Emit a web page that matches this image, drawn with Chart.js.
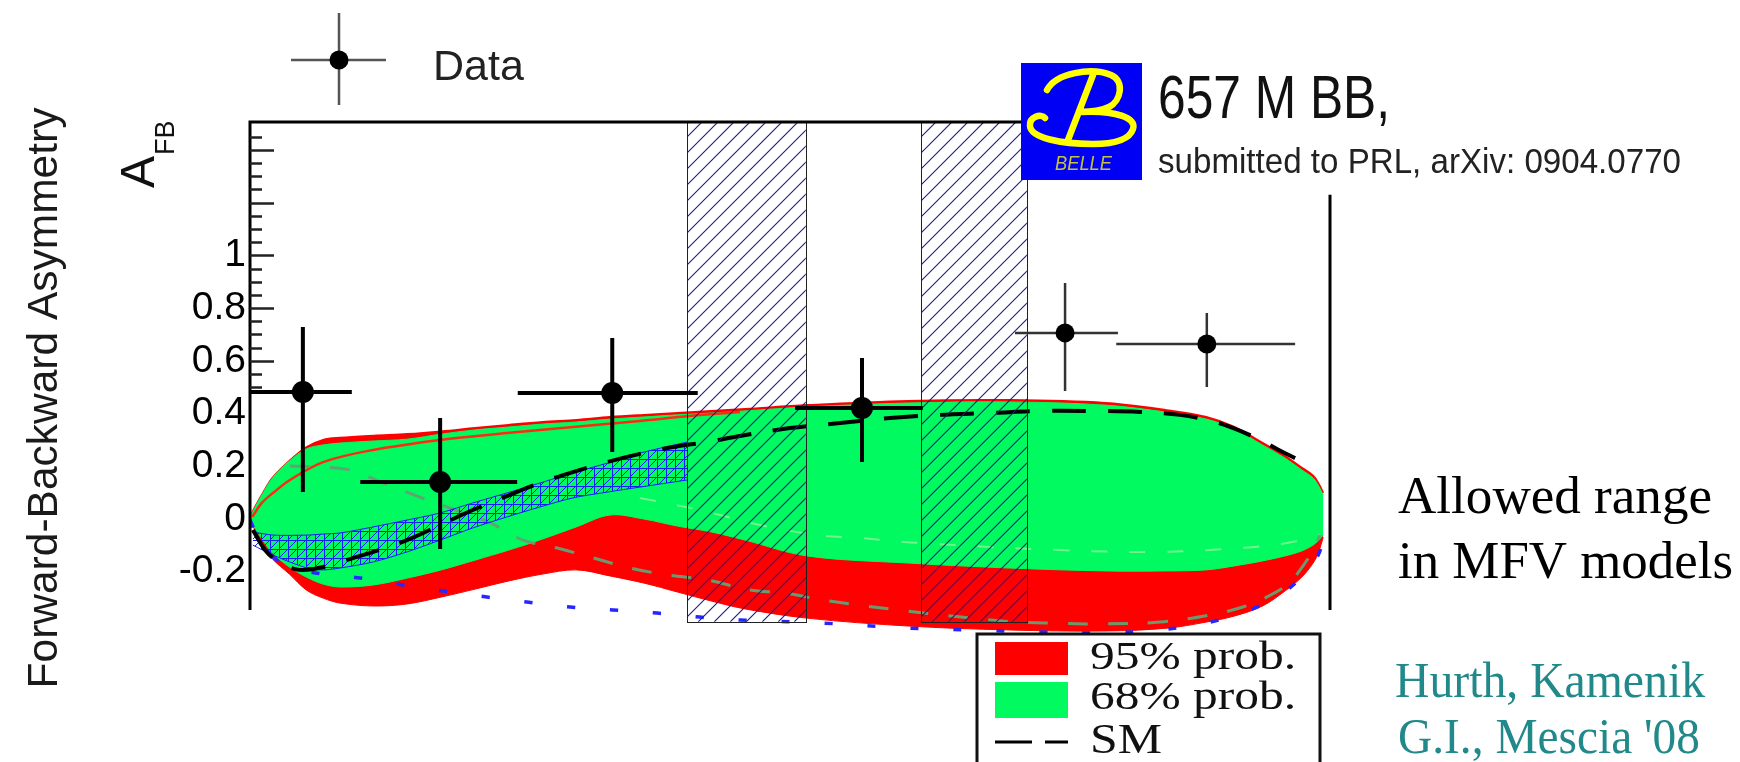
<!DOCTYPE html>
<html>
<head>
<meta charset="utf-8">
<title>Forward-Backward Asymmetry</title>
<script src="https://cdn.jsdelivr.net/npm/chart.js@4.4.1/dist/chart.umd.min.js"></script>
<style>
  html, body { margin: 0; padding: 0; background: #fff; }
  canvas { display: block; }
</style>
</head>
<body>
<canvas id="afb" width="1740" height="762"></canvas>
<script>
// ---- Belle data: q^2 bins (GeV^2) and measured A_FB with errors ----
const binCenter = [0.94, 3.38, 6.44, 10.88, 14.49, 17.01];
const binLow    = [0.00, 1.96, 4.76, 9.69, 13.60, 15.40];
const binHigh   = [1.81, 4.75, 7.96, 11.96, 15.43, 18.58];
const afbValue  = [0.482, 0.140, 0.478, 0.421, 0.706, 0.664];
const afbLow    = [0.102, -0.114, 0.254, 0.216, 0.486, 0.501];
const afbHigh   = [0.728, 0.383, 0.687, 0.611, 0.895, 0.781];

// ---- charmonium veto windows ----
const vetoLow  = [7.77, 11.93];
const vetoHigh = [9.88, 13.81];
const vetoTop = 1.51;
const vetoBottom = -0.39;

// ---- y axis ticks ----
const yTickValues = [-0.2, 0, 0.2, 0.4, 0.6, 0.8, 1, 1.2, 1.4];
const yTickLabels = ['-0.2', '0', '0.2', '0.4', '0.6', '0.8', '1', '', ''];

// ---- MFV allowed range (68% and 95% probability) ----
const bandX = [0, 0.1, 0.2, 0.4, 0.7, 1.0, 1.3, 1.6, 2.2, 2.8, 3.4, 4.0, 4.6, 5.2, 5.8, 6.4, 7.0,
               7.6, 8.2, 8.8, 9.9, 11.7, 13.5, 15.2, 16.3, 17.0, 17.5, 18.0, 18.4, 18.7, 18.9, 19.0, 19.08];
const green68Top = [0.008, 0.049, 0.087, 0.156, 0.220, 0.266, 0.281, 0.288, 0.296, 0.303, 0.322, 0.338,
                    0.349, 0.360, 0.368, 0.379, 0.387, 0.395, 0.402, 0.410, 0.425, 0.440, 0.444, 0.432,
                    0.405, 0.379, 0.341, 0.281, 0.231, 0.186, 0.156, 0.125, 0.091];
const green68Bottom = [-0.008, -0.038, -0.072, -0.129, -0.182, -0.220, -0.247, -0.258, -0.250, -0.224,
                       -0.193, -0.156, -0.118, -0.076, -0.030, 0.015, 0.000, -0.027, -0.049, -0.080,
                       -0.140, -0.167, -0.186, -0.197, -0.197, -0.193, -0.178, -0.159, -0.140, -0.121,
                       -0.099, -0.080, -0.061];
const red95Top = [0.008, 0.049, 0.087, 0.156, 0.220, 0.272, 0.300, 0.308, 0.316, 0.322, 0.332, 0.345,
                  0.357, 0.368, 0.376, 0.387, 0.395, 0.402, 0.410, 0.417, 0.432, 0.448, 0.451, 0.440,
                  0.413, 0.387, 0.349, 0.289, 0.239, 0.194, 0.164, 0.133, 0.099];
const red95Bottom = [-0.008, -0.046, -0.095, -0.152, -0.209, -0.269, -0.300, -0.319, -0.330, -0.322,
                     -0.296, -0.266, -0.235, -0.209, -0.193, -0.216, -0.243, -0.277, -0.311, -0.341,
                     -0.376, -0.406, -0.421, -0.425, -0.414, -0.391, -0.368, -0.330, -0.273, -0.220,
                     -0.167, -0.125, -0.068];

// upper edge of the 95% region seen through the 68% band
const rimX = [0.04, 0.21, 0.41, 0.71, 1.30, 2.19, 3.38, 4.57, 5.74, 6.93, 7.82, 8.71];
const rimY = [0.008, 0.061, 0.099, 0.148, 0.216, 0.262, 0.300, 0.326, 0.349, 0.372, 0.391, 0.406];

// ---- Standard Model prediction ----
const smX = [0.05, 0.27, 0.53, 0.80, 1.01, 1.30, 1.60, 2.19, 2.79, 3.38, 3.96, 4.57, 5.16, 5.74, 6.35,
             6.93, 7.52, 8.12, 8.71, 9.60, 10.49, 11.38, 12.27, 13.16, 14.04, 14.93, 15.82, 16.53,
             17.01, 17.48, 17.96, 18.36, 18.58];
const smY = [-0.042, -0.118, -0.167, -0.190, -0.193, -0.182, -0.163, -0.125, -0.080, -0.023, 0.034,
             0.087, 0.137, 0.178, 0.216, 0.247, 0.273, 0.292, 0.315, 0.345, 0.364, 0.383, 0.395, 0.402,
             0.410, 0.410, 0.406, 0.395, 0.376, 0.345, 0.300, 0.254, 0.231];

// ---- SM band at low q^2 (cross-hatched) ----
const smBandX = [0.05, 0.41, 1.01, 1.30, 1.60, 2.19, 2.79, 3.38, 3.96, 4.57, 5.16, 5.74, 6.35, 6.93, 7.77];
const smBandTop = [-0.049, -0.061, -0.061, -0.057, -0.053, -0.030, -0.004, 0.023, 0.061, 0.099, 0.137,
                   0.175, 0.212, 0.250, 0.292];
const smBandBottom = [-0.099, -0.137, -0.186, -0.193, -0.186, -0.163, -0.125, -0.080, -0.034, 0.008,
                      0.046, 0.080, 0.102, 0.121, 0.148];

// ---- other model curves ----
const dotX = [0, 0.21, 0.53, 1.07, 1.96, 2.72, 3.43, 4.21, 4.92, 5.69, 6.45, 7.24, 8.0, 8.71, 10.19,
              11.68, 12.85, 14.04, 15.11, 16.18, 17.07, 17.78, 18.36, 18.76, 18.99, 19.08];
const dotY = [-0.004, -0.099, -0.163, -0.201, -0.224, -0.250, -0.273, -0.296, -0.315, -0.334, -0.345,
              -0.357, -0.372, -0.383, -0.395, -0.414, -0.421, -0.429, -0.432, -0.421, -0.391, -0.345,
              -0.281, -0.205, -0.137, -0.080];
const greyX = [0.71, 1.30, 1.78, 2.36, 3.02, 3.50, 4.27, 4.85, 5.46, 6.04, 6.76, 7.41, 8.12, 8.89, 9.51,
               10.17, 10.79, 11.52, 12.27, 12.85, 13.64, 14.35, 15.11, 16.18, 17.07, 17.65, 18.04,
               18.44, 18.67, 18.90, 19.02];
const greyY = [0.201, 0.197, 0.186, 0.137, 0.083, 0.046, -0.015, -0.080, -0.110, -0.144, -0.186, -0.212,
               -0.231, -0.269, -0.281, -0.307, -0.326, -0.345, -0.364, -0.376, -0.391, -0.395, -0.398,
               -0.391, -0.364, -0.334, -0.300, -0.250, -0.193, -0.118, -0.061];
const paleX = [6.93, 8.0, 9.07, 10.08, 10.84, 11.91, 14.4, 16.18, 17.6, 18.44, 19.02];
const paleY = [0.080, 0.034, -0.023, -0.061, -0.072, -0.091, -0.118, -0.125, -0.110, -0.091, -0.061];

// ------------------------------------------------------------------
const pts = (xs, ys) => xs.map((x, i) => ({ x: x, y: ys[i] }));
const RED = '#ff0000';
const GREEN = 'rgb(0,250,96)';

const canvas = document.getElementById('afb');
const mainCtx = canvas.getContext('2d');

// cross-hatch fill for the SM band
const tile = document.createElement('canvas');
tile.width = 9; tile.height = 9;
const tctx = tile.getContext('2d');
tctx.strokeStyle = '#1a1aff';
tctx.lineWidth = 1;
tctx.beginPath();
tctx.moveTo(0.5, 0); tctx.lineTo(0.5, 9);
tctx.moveTo(0, 0.5); tctx.lineTo(9, 0.5);
tctx.moveTo(0, 9); tctx.lineTo(9, 0);
tctx.stroke();
const crossHatch = mainCtx.createPattern(tile, 'repeat');

function lineSet(label, data, color, width, order, extra) {
  return Object.assign({
    label: label, data: data, showLine: true, pointRadius: 0, pointHoverRadius: 0,
    borderColor: color, borderWidth: width, backgroundColor: color,
    fill: false, tension: 0.35, order: order
  }, extra || {});
}

function dataSet(label, idx, role, radius, order) {
  return {
    label: label, role: role, bins: idx,
    data: idx.map(i => ({ x: binCenter[i], y: afbValue[i] })),
    showLine: false, pointRadius: radius, pointHoverRadius: radius,
    backgroundColor: '#000', borderWidth: 0, order: order
  };
}

function drawText(ctx, str, x, y, font, color, width, align) {
  ctx.save();
  ctx.font = font;
  const w = ctx.measureText(str).width;
  const sx = width ? width / w : 1;
  ctx.translate(x, y);
  ctx.scale(sx, 1);
  ctx.fillStyle = color;
  ctx.textBaseline = 'alphabetic';
  ctx.textAlign = align || 'left';
  ctx.fillText(str, 0, 0);
  ctx.restore();
}

function hatchBox(ctx, x0, y0, x1, y1) {
  ctx.save();
  ctx.beginPath();
  ctx.rect(x0, y0, x1 - x0, y1 - y0);
  ctx.clip();
  ctx.strokeStyle = '#1c1c86';
  ctx.lineWidth = 1.2;
  const h = y1 - y0;
  ctx.beginPath();
  for (let s = x0 - h; s < x1 + 17; s += 16) {
    ctx.moveTo(s, y1);
    ctx.lineTo(s + h, y0);
  }
  ctx.stroke();
  ctx.restore();
  ctx.save();
  ctx.strokeStyle = '#222';
  ctx.lineWidth = 1;
  ctx.strokeRect(Math.round(x0) + 0.5, Math.round(y0) + 0.5, Math.round(x1 - x0), Math.round(y1 - y0));
  ctx.restore();
}

const LOGO = { x: 1021, y: 63, w: 121, h: 117 };

function drawLogo(ctx) {
  const { x, y, w, h } = LOGO;
  ctx.save();
  ctx.fillStyle = '#0000f5';
  ctx.fillRect(x, y, w, h);
  ctx.translate(x, y);
  ctx.strokeStyle = '#ffff00';
  ctx.lineWidth = 6.5;
  ctx.lineCap = 'round';
  ctx.lineJoin = 'round';
  ctx.beginPath();
  ctx.moveTo(26, 27);
  ctx.bezierCurveTo(35, 10, 70, 4, 90, 12);
  ctx.bezierCurveTo(104, 18, 100, 38, 88, 44);
  ctx.bezierCurveTo(80, 48, 68, 49, 59, 49);
  ctx.bezierCurveTo(95, 47, 116, 55, 112, 66);
  ctx.bezierCurveTo(108, 78, 90, 81, 72, 81);
  ctx.bezierCurveTo(40, 81, 10, 75, 9, 63);
  ctx.bezierCurveTo(8, 54, 20, 50, 24, 55);
  ctx.moveTo(72, 12);
  ctx.lineTo(47, 77);
  ctx.stroke();
  ctx.restore();
  drawText(ctx, 'BELLE', x + 34, y + 107, 'italic 21px "Liberation Sans"', '#c4c43c', 57);
}

const decor = {
  id: 'decor',
  beforeDraw(chart) {
    const ctx = chart.ctx;
    ctx.save();
    ctx.fillStyle = '#fff';
    ctx.fillRect(0, 0, chart.width, chart.height);
    ctx.restore();
  },
  beforeDatasetDraw(chart, args) {
    const ds = chart.data.datasets[args.index];
    if (ds.role !== 'dataThin' && ds.role !== 'dataThick') return;
    const ctx = chart.ctx;
    const xs = chart.scales.x, ys = chart.scales.y;
    if (ds.role === 'dataThin') {
      for (let k = 0; k < vetoLow.length; k++) {
        hatchBox(ctx, xs.getPixelForValue(vetoLow[k]), ys.getPixelForValue(vetoTop),
                 xs.getPixelForValue(vetoHigh[k]), ys.getPixelForValue(vetoBottom));
      }
    }
    ctx.save();
    ctx.strokeStyle = ds.role === 'dataThick' ? '#000' : '#333';
    ctx.lineWidth = ds.role === 'dataThick' ? 4 : 2.5;
    ctx.lineCap = 'butt';
    ctx.beginPath();
    ds.bins.forEach(i => {
      const cx = xs.getPixelForValue(binCenter[i]);
      const cy = ys.getPixelForValue(afbValue[i]);
      ctx.moveTo(xs.getPixelForValue(binLow[i]), cy);
      ctx.lineTo(xs.getPixelForValue(binHigh[i]), cy);
      ctx.moveTo(cx, ys.getPixelForValue(afbLow[i]));
      ctx.lineTo(cx, ys.getPixelForValue(afbHigh[i]));
    });
    ctx.stroke();
    ctx.restore();
  },
  afterDatasetsDraw(chart) {
    const ctx = chart.ctx;
    const ys = chart.scales.y;
    const area = chart.chartArea;
    const top = ys.getPixelForValue(1.506);
    const bottom = ys.getPixelForValue(-0.345);
    ctx.save();
    ctx.strokeStyle = '#000';
    ctx.lineCap = 'butt';
    // frame
    ctx.lineWidth = 3;
    ctx.beginPath();
    ctx.moveTo(area.left, bottom);
    ctx.lineTo(area.left, top);
    ctx.moveTo(area.left - 1.5, top);
    ctx.lineTo(LOGO.x, top);
    ctx.moveTo(area.right, ys.getPixelForValue(1.23));
    ctx.lineTo(area.right, bottom);
    ctx.stroke();
    // inward ticks on the upper part of the axis
    ctx.lineWidth = 2.5;
    ctx.strokeStyle = '#222';
    ctx.beginPath();
    for (let n = 10; n <= 29; n++) {
      const v = n * 0.05;
      const len = (n % 4 === 0) ? 24 : 12;
      const py = Math.round(ys.getPixelForValue(v)) + 0.5;
      ctx.moveTo(area.left, py);
      ctx.lineTo(area.left + len, py);
    }
    ctx.stroke();
    ctx.restore();
  },
  afterDraw(chart) {
    const ctx = chart.ctx;

    // legend entry for the data points
    ctx.save();
    ctx.strokeStyle = '#555';
    ctx.lineWidth = 2.5;
    ctx.beginPath();
    ctx.moveTo(291, 60); ctx.lineTo(386, 60);
    ctx.moveTo(339, 13); ctx.lineTo(339, 105);
    ctx.stroke();
    ctx.fillStyle = '#000';
    ctx.beginPath();
    ctx.arc(339, 60, 9.5, 0, Math.PI * 2);
    ctx.fill();
    ctx.restore();
    drawText(ctx, 'Data', 433, 80, '43px "Liberation Sans"', '#222');

    // axis titles
    ctx.save();
    ctx.translate(57, 398);
    ctx.rotate(-Math.PI / 2);
    ctx.font = '42.5px "Liberation Sans"';
    ctx.fillStyle = '#1a1a1a';
    ctx.textAlign = 'center';
    ctx.fillText('Forward-Backward Asymmetry', 0, 0);
    ctx.restore();

    ctx.save();
    ctx.translate(154, 188);
    ctx.rotate(-Math.PI / 2);
    ctx.fillStyle = '#111';
    ctx.font = '48px "Liberation Sans"';
    ctx.fillText('A', 0, 0);
    const wA = ctx.measureText('A').width;
    ctx.font = '27px "Liberation Sans"';
    ctx.fillText('FB', wA + 1, 20);
    ctx.restore();

    // Belle logo and publication note
    drawLogo(ctx);
    drawText(ctx, '657 M BB,', 1158, 118, '62px "Liberation Sans"', '#111', 232);
    drawText(ctx, 'submitted to PRL, arXiv: 0904.0770', 1158, 173, '35px "Liberation Sans"', '#222', 523);

    // model annotation
    drawText(ctx, 'Allowed range', 1398, 513, '53px "Liberation Serif"', '#000', 314);
    drawText(ctx, 'in MFV models', 1398, 578, '53px "Liberation Serif"', '#000', 335);
    drawText(ctx, 'Hurth, Kamenik', 1395, 697, '50px "Liberation Serif"', '#21898a', 310);
    drawText(ctx, "G.I., Mescia '08", 1398, 753, '50px "Liberation Serif"', '#21898a', 302);

    // legend for the allowed-range bands
    ctx.save();
    ctx.fillStyle = '#fff';
    ctx.fillRect(977, 634, 343, 140);
    ctx.strokeStyle = '#111';
    ctx.lineWidth = 3;
    ctx.strokeRect(977, 634, 343, 140);
    ctx.fillStyle = RED;
    ctx.fillRect(995, 642, 73, 33);
    ctx.fillStyle = GREEN;
    ctx.fillRect(995, 682, 73, 36);
    ctx.strokeStyle = '#000';
    ctx.lineWidth = 3;
    ctx.beginPath();
    ctx.moveTo(995, 742); ctx.lineTo(1032, 742);
    ctx.moveTo(1045, 742); ctx.lineTo(1068, 742);
    ctx.stroke();
    ctx.restore();
    drawText(ctx, '95% prob.', 1090, 669, '41px "Liberation Serif"', '#111', 206);
    drawText(ctx, '68% prob.', 1090, 709, '41px "Liberation Serif"', '#111', 206);
    drawText(ctx, 'SM', 1090, 753, '42px "Liberation Serif"', '#111', 72);
  }
};

new Chart(canvas, {
  type: 'scatter',
  data: {
    datasets: [
      lineSet('95% prob. (upper)', pts(bandX, red95Top), RED, 2, 100),
      lineSet('95% prob.', pts(bandX, red95Bottom), RED, 1, 99, { fill: 0, backgroundColor: RED }),
      lineSet('68% prob. (upper)', pts(bandX, green68Top), GREEN, 1, 90),
      lineSet('68% prob.', pts(bandX, green68Bottom), GREEN, 1, 89, { fill: 2, backgroundColor: GREEN }),
      lineSet('pale', pts(paleX, paleY), 'rgba(190,240,170,0.6)', 2, 80, { borderDash: [16, 22] }),
      lineSet('95% edge', pts(rimX, rimY), '#ff2a10', 2.5, 79),
      lineSet('grey', pts(greyX, greyY), 'rgba(100,160,115,0.95)', 3, 78, { borderDash: [20, 20] }),
      lineSet('blue dotted', pts(dotX, dotY), '#2626ff', 3.5, 77, { borderDash: [8, 35] }),
      lineSet('SM band (upper)', pts(smBandX, smBandTop), '#1a1aff', 1, 70, { tension: 0.3 }),
      lineSet('SM band', pts(smBandX, smBandBottom), '#1a1aff', 1, 69,
              { fill: 8, backgroundColor: crossHatch, tension: 0.3 }),
      lineSet('SM', pts(smX, smY), '#000', 4, 60, { borderDash: [34, 22] }),
      dataSet('Data', [4, 5], 'dataThin', 9.5, 1),
      dataSet('Data', [0, 1, 2, 3], 'dataThick', 11, 0)
    ]
  },
  options: {
    responsive: false,
    devicePixelRatio: 1,
    animation: false,
    events: [],
    layout: { padding: { left: 150, right: 410, top: 122, bottom: 122 } },
    plugins: { legend: { display: false }, tooltip: { enabled: false } },
    scales: {
      x: { type: 'linear', min: 0, max: 19.2, display: false },
      y: {
        type: 'linear', min: -0.459, max: 1.506,
        afterFit(scale) { scale.width = 100; },
        afterBuildTicks(scale) { scale.ticks = yTickValues.map(v => ({ value: v })); },
        ticks: {
          autoSkip: false,
          padding: 4,
          color: '#000',
          font: { family: 'Liberation Sans', size: 39 },
          callback: (value, index) => yTickLabels[index]
        },
        grid: { display: false, drawTicks: false },
        border: { display: false }
      }
    }
  },
  plugins: [decor]
});
</script>
</body>
</html>
